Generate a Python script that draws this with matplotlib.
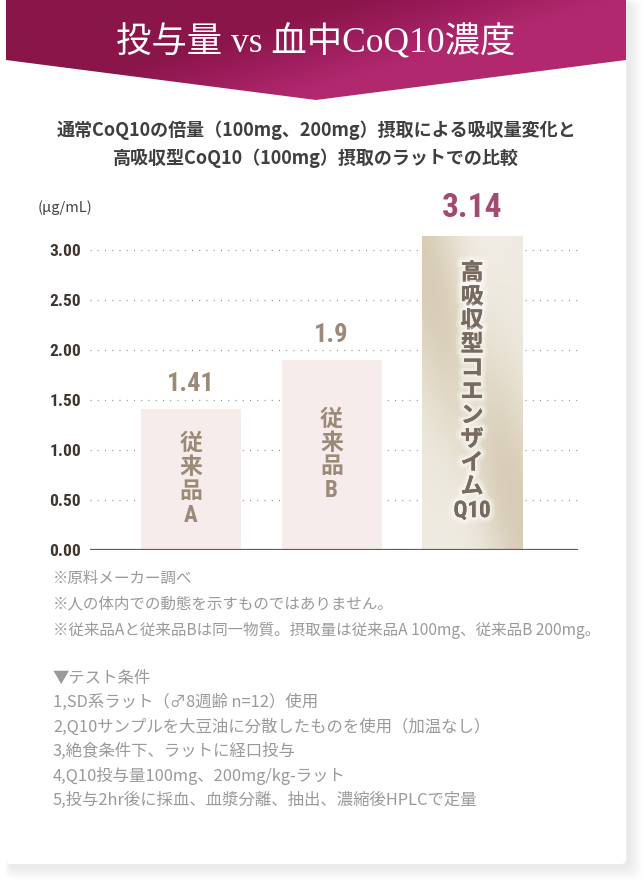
import numpy as np
import matplotlib
matplotlib.use("Agg")
import matplotlib.pyplot as plt
from matplotlib.patches import Polygon, FancyBboxPatch
from matplotlib.colors import LinearSegmentedColormap
import matplotlib.patheffects as pe

plt.rcParams['font.family'] = ['Noto Sans CJK JP', 'DejaVu Sans']

# data
labels = ["従\n来\n品\nA", "従\n来\n品\nB", "高\n吸\n収\n型\nコ\nエ\nン\nザ\nイ\nム\nQ10"]
values = [1.41, 1.9, 3.14]
value_text = ["1.41", "1.9", "3.14"]
yticks = [0.0, 0.5, 1.0, 1.5, 2.0, 2.5, 3.0]
ytick_labels = ["0.00", "0.50", "1.00", "1.50", "2.00", "2.50", "3.00"]

title = "投与量 vs 血中CoQ10濃度"
subtitle = ["通常CoQ10の倍量（100mg、200mg）摂取による吸収量変化と",
            "高吸収型CoQ10（100mg）摂取のラットでの比較"]
unit = "(μg/mL)"
notes = ["※原料メーカー調べ",
         "※人の体内での動態を示すものではありません。",
         "※従来品Aと従来品Bは同一物質。摂取量は従来品A 100mg、従来品B 200mg。"]
conditions = ["▼テスト条件",
              "1,SD系ラット（♂8週齢 n=12）使用",
              "2,Q10サンプルを大豆油に分散したものを使用（加温なし）",
              "3,絶食条件下、ラットに経口投与",
              "4,Q10投与量100mg、200mg/kg-ラット",
              "5,投与2hr後に採血、血漿分離、抽出、濃縮後HPLCで定量"]

NARROW = ["Roboto Condensed", "Liberation Sans Narrow", "Roboto", "DejaVu Sans"]

W, H = 644, 881
fig = plt.figure(figsize=(W / 100, H / 100), dpi=100)
fig.patch.set_facecolor("white")

# background layer in pixel coordinates
bg = fig.add_axes([0, 0, 1, 1])
bg.set_xlim(0, W)
bg.set_ylim(H, 0)
bg.axis("off")

# card shadow + card
for i in range(10, 0, -1):
    bg.add_patch(FancyBboxPatch((6 + 3 - i * 0.3, 0 + 3 - i * 0.3), 620 + i * 1.6, 864 + i * 1.6,
                                boxstyle="round,pad=0,rounding_size=8",
                                fc="#c8c8d0", ec="none", alpha=0.035, zorder=0))
bg.add_patch(FancyBboxPatch((6, 0), 620, 864, boxstyle="round,pad=0,rounding_size=5",
                            fc="white", ec="none", zorder=1))

# header banner with gradient
hdr = Polygon([(6, 0), (626, 0), (626, 60), (316, 100), (6, 60)], closed=True,
              fc="none", ec="none")
bg.add_patch(hdr)
gx, gy = np.meshgrid(np.linspace(6, 626, 300), np.linspace(0, 100, 60))
t = np.clip((gx - 350 + 3.3 * gy) / 260, 0, 1)
hcmap = LinearSegmentedColormap.from_list("hdr", ["#8a1549", "#9c1d5c", "#b1286f"])
im = bg.imshow(t, cmap=hcmap, extent=(6, 626, 100, 0), aspect="auto", zorder=2,
               interpolation="bilinear")
im.set_clip_path(hdr)

bg.text(316, 43, title, color="white", fontsize=25.5, ha="center", va="center",
        family=["Liberation Serif", "Noto Sans CJK JP"], zorder=3)

for i, line in enumerate(subtitle):
    bg.text(316, 130 + i * 28, line, color="#3f3f3f", fontsize=13, weight="bold",
            ha="center", va="center", zorder=3)

bg.text(38, 208, unit, color="#444444", fontsize=10.5, ha="left", va="center", zorder=3)

for i, line in enumerate(notes):
    bg.text(53, 578 + i * 26, line, color="#9a9a9a", fontsize=11.2, ha="left",
            va="center", zorder=3)
for i, line in enumerate(conditions):
    bg.text(53, 678 + i * 24.5, line, color="#9a9a9a", fontsize=11.8, ha="left",
            va="center", zorder=3)

# chart axes: x 90..578 px, y=0 at 550 px, 100 px per unit
ymax = 3.3
ax = fig.add_axes([90 / W, (H - 550) / H, 488 / W, (ymax * 100) / H])
ax.set_facecolor("none")
ax.set_xlim(-0.719, 2.754)
ax.set_ylim(0, ymax)
for s in ax.spines.values():
    s.set_visible(False)
ax.axhline(0, color="#6e5a50", lw=1.6, zorder=5)
for y in yticks[1:]:
    ax.axhline(y, color="#8c8c8c", lw=0.9, ls=(0, (0.8, 5.0)), zorder=1)
ax.set_xticks([])
ax.set_yticks(yticks)
ax.set_yticklabels(ytick_labels)
ax.tick_params(axis="y", length=0, pad=6.5, labelsize=12.5, labelcolor="#3f3630")
for lab in ax.get_yticklabels():
    lab.set_family(NARROW)
    lab.set_weight("bold")

x = np.arange(len(values))
bw = 100 / 140.5
colors = ["#f7ecec", "#f7ecec", "none"]
bars = ax.bar(x, values, width=bw, color=colors, zorder=2)

# gradient for the third bar
b = bars[2]
bx, by = np.meshgrid(np.linspace(0, 1, 80), np.linspace(0, 1, 240))
u = bx * 0.45 + (1 - by) * 0.55
band = np.exp(-((u - 0.5) / 0.22) ** 2)
glow = np.exp(-((bx - 0.5) / 0.28) ** 2) * np.exp(-((by - 0.45) / 0.5) ** 2)
g = np.clip(band * 0.9 - glow * 0.35 + 0.1, 0, 1)
bcmap = LinearSegmentedColormap.from_list("bar", ["#f0ece3", "#d7ccb4"])
bim = ax.imshow(g, cmap=bcmap, extent=(x[2] - bw / 2, x[2] + bw / 2, 0, values[2]),
                aspect="auto", origin="upper", zorder=2, interpolation="bilinear")
bim.set_clip_path(b)

# labels inside bars and values above
for i, (xi, v) in enumerate(zip(x, values)):
    if i < 2:
        ax.text(xi, v / 2, labels[i], ha="center", va="center", fontsize=16.5,
                weight="bold", color="#9c8a78", linespacing=1.04,
                family=NARROW[:2] + ["Noto Sans CJK JP"], zorder=4)
        ax.text(xi, v + 0.25, value_text[i], ha="center", va="center", fontsize=19,
                weight="bold", color="#9c8a78", family=NARROW, zorder=4)
    else:
        ax.text(xi, v / 2 + 0.01, labels[i], ha="center", va="center", fontsize=16.5,
                weight="bold", color="#776b60", linespacing=1.04,
                family=NARROW[:2] + ["Noto Sans CJK JP"], zorder=4,
                path_effects=[pe.withStroke(linewidth=8, foreground="white", alpha=0.25),
                              pe.withStroke(linewidth=4, foreground="white", alpha=0.4),
                              pe.Normal()])
        ax.text(xi, v + 0.28, value_text[i], ha="center", va="center", fontsize=24,
                weight="bold", color="#a24a72", family=NARROW, zorder=4)

fig.savefig("out.png", dpi=100)
